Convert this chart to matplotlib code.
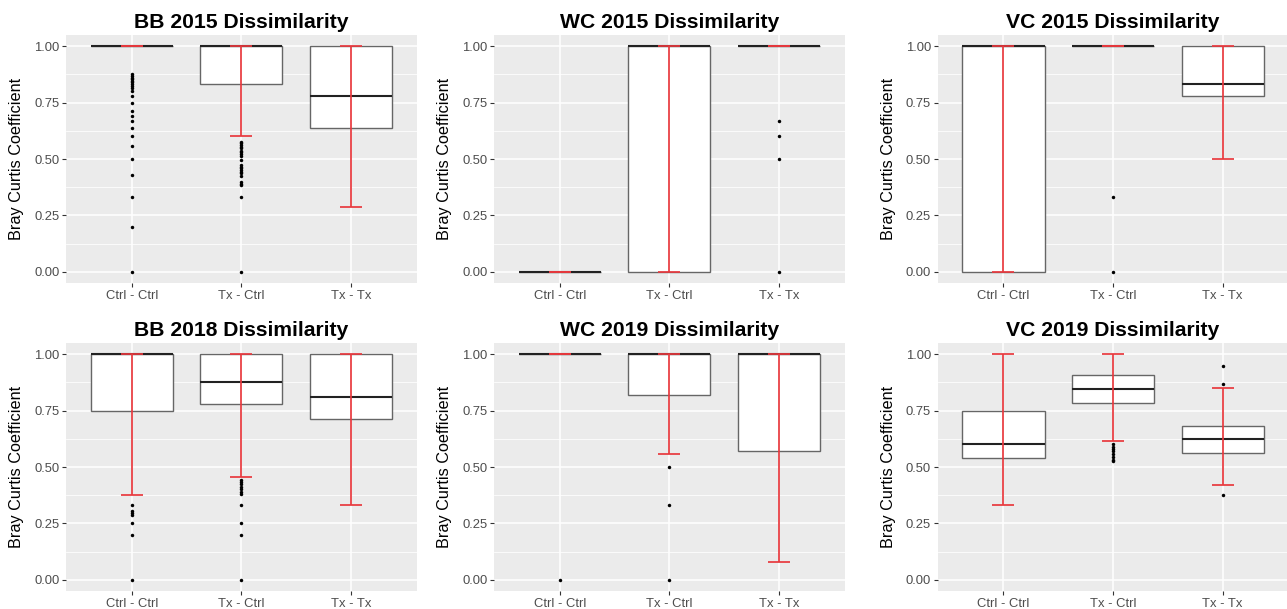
import matplotlib.pyplot as plt
from matplotlib.ticker import FixedLocator

plt.rcParams['font.family'] = ['Liberation Sans', 'DejaVu Sans']

# Data: one row per panel, one value per group
titles = ["BB 2015 Dissimilarity", "WC 2015 Dissimilarity", "VC 2015 Dissimilarity",
          "BB 2018 Dissimilarity", "WC 2019 Dissimilarity", "VC 2019 Dissimilarity"]
groups = ["Ctrl - Ctrl", "Tx - Ctrl", "Tx - Tx"]

whisk_lo = [[1.0, 0.600, 0.286],
            [0.0, 0.0, 1.0],
            [0.0, 1.0, 0.500],
            [0.375, 0.455, 0.333],
            [1.0, 0.556, 0.077],
            [0.333, 0.615, 0.421]]
q1 = [[1.0, 0.833, 0.636],
      [0.0, 0.0, 1.0],
      [0.0, 1.0, 0.778],
      [0.750, 0.778, 0.714],
      [1.0, 0.818, 0.571],
      [0.538, 0.786, 0.563]]
median = [[1.0, 1.0, 0.778],
          [0.0, 1.0, 1.0],
          [1.0, 1.0, 0.833],
          [1.0, 0.875, 0.810],
          [1.0, 1.0, 1.0],
          [0.600, 0.846, 0.625]]
q3 = [[1.0, 1.0, 1.0],
      [0.0, 1.0, 1.0],
      [1.0, 1.0, 1.0],
      [1.0, 1.0, 1.0],
      [1.0, 1.0, 1.0],
      [0.750, 0.909, 0.682]]
whisk_hi = [[1.0, 1.0, 1.0],
            [0.0, 1.0, 1.0],
            [1.0, 1.0, 1.0],
            [1.0, 1.0, 1.0],
            [1.0, 1.0, 1.0],
            [1.0, 1.0, 0.850]]
outliers = [
    [[0.875, 0.867, 0.861, 0.854, 0.846, 0.840, 0.833, 0.822, 0.813, 0.800, 0.778,
      0.750, 0.714, 0.692, 0.667, 0.636, 0.600, 0.556, 0.500, 0.429, 0.333, 0.200, 0.0],
     [0.576, 0.569, 0.562, 0.554, 0.547, 0.536, 0.529, 0.522, 0.513, 0.495, 0.473,
      0.465, 0.458, 0.450, 0.443, 0.436, 0.425, 0.398, 0.391, 0.383, 0.333, 0.0],
     []],
    [[], [], [0.667, 0.600, 0.500, 0.0]],
    [[], [0.333, 0.0], []],
    [[0.333, 0.304, 0.295, 0.286, 0.250, 0.200, 0.0],
     [0.443, 0.433, 0.423, 0.411, 0.401, 0.391, 0.379, 0.333, 0.250, 0.200, 0.0],
     []],
    [[0.0], [0.500, 0.333, 0.0], []],
    [[], [0.600, 0.588, 0.579, 0.571, 0.556, 0.545, 0.533, 0.526], [0.947, 0.867, 0.375]],
]

red = '#e8393e'
positions = [1, 2, 3]

fig = plt.figure(figsize=(12.87, 6.09), dpi=100)
W, H = 1287, 609
lefts = [66, 494, 937.7]
tops = [35, 343]
aw, ah = 350.7, 248

for i, title in enumerate(titles):
    r, c = divmod(i, 3)
    ax = fig.add_axes([lefts[c] / W, 1 - (tops[r] + ah) / H, aw / W, ah / H])
    ax.set_facecolor('#EBEBEB')
    for s in ax.spines.values():
        s.set_visible(False)

    stats = []
    for k in range(3):
        stats.append(dict(q1=q1[i][k], med=median[i][k], q3=q3[i][k],
                          whislo=whisk_lo[i][k], whishi=whisk_hi[i][k],
                          fliers=outliers[i][k], label=groups[k]))

    ax.bxp(stats, positions=positions, widths=0.75, patch_artist=True,
           showcaps=False,
           boxprops=dict(facecolor='white', edgecolor='#666666', linewidth=1.0),
           medianprops=dict(color='#222222', linewidth=1.5),
           whiskerprops=dict(linestyle='none'),
           flierprops=dict(marker='o', markersize=2.5, markerfacecolor='black',
                           markeredgecolor='none', zorder=5))

    # red error bars spanning the whiskers, drawn over the boxes
    ax.vlines(positions, whisk_lo[i], whisk_hi[i], color=red, linewidth=1.25, zorder=4)
    ax.hlines(whisk_lo[i], [p - 0.1 for p in positions], [p + 0.1 for p in positions],
              color=red, linewidth=1.25, zorder=4)
    ax.hlines(whisk_hi[i], [p - 0.1 for p in positions], [p + 0.1 for p in positions],
              color=red, linewidth=1.25, zorder=4)

    ax.set_xlim(0.4, 3.6)
    ax.set_ylim(-0.05, 1.05)
    ax.set_xticks(positions)
    ax.set_xticklabels(groups)
    ax.set_yticks([0, 0.25, 0.5, 0.75, 1.0])
    ax.set_yticklabels(['0.00', '0.25', '0.50', '0.75', '1.00'])
    ax.yaxis.set_minor_locator(FixedLocator([0.125, 0.375, 0.625, 0.875]))

    ax.set_axisbelow(True)
    ax.grid(which='major', color='white', linewidth=1.1)
    ax.grid(which='minor', axis='y', color='white', linewidth=0.55)

    ax.tick_params(which='major', length=2.75, width=0.8, color='#333333',
                   labelcolor='#4D4D4D', labelsize=9.4, pad=2.0)
    ax.tick_params(which='minor', length=0)

    ax.set_ylabel('Bray Curtis Coefficient', fontsize=11.7, labelpad=7)
    ax.set_title(title, fontsize=15.2, fontweight='bold', pad=5)

plt.savefig('out.png', dpi=100)
plt.close()
